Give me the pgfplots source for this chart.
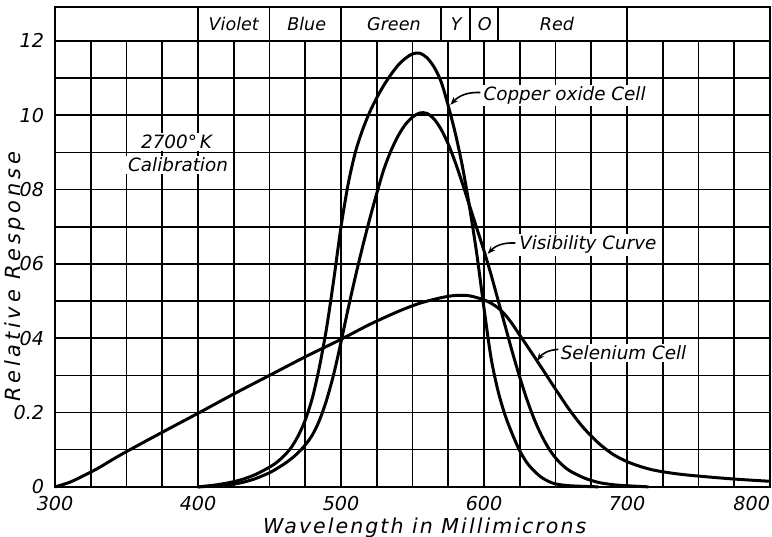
\documentclass[border=0pt]{standalone}
\usepackage{fontspec}
\setmainfont{DejaVu Sans}
\newfontfamily\ylabfont[LetterSpace=18]{DejaVu Sans}
\newfontfamily\xlabfont[LetterSpace=10]{DejaVu Sans}
\usepackage{pgfplots}
\pgfplotsset{compat=1.18}
\usetikzlibrary{arrows.meta}

\begin{document}
\begin{tikzpicture}
\begin{axis}[
  scale only axis,
  width=357.5bp, height=223bp,
  xmin=300, xmax=800, ymin=0, ymax=1.2,
  xtick={300,400,...,800}, minor x tick num=3,
  ytick={0,0.2,...,1.2}, minor y tick num=1,
  xticklabels={300,400,500,600,700,\makebox[0pt][r]{800}},
  yticklabels={0,0.2,04,06,08,10,12},
  grid=both,
  grid style={black, line width=0.8pt},
  minor grid style={black, line width=0.8pt},
  major tick length=0pt, minor tick length=0pt,
  axis line style={line width=1.3pt},
  tick label style={font=\fontsize{9.6}{10}\selectfont\itshape},
  xticklabel style={yshift=-1bp},
  yticklabel style={xshift=-2bp},
  clip=false,
]
% copper oxide cell
\addplot[black, line width=1.5pt, smooth] coordinates {
  (400,0) (410,0.004) (420,0.010) (430,0.019) (440,0.033) (450,0.053)
  (455,0.066) (460,0.083) (465,0.105) (470,0.137) (475,0.18) (480,0.24)
  (485,0.325) (490,0.43) (495,0.56) (500,0.70) (505,0.815) (510,0.90)
  (515,0.96) (520,1.008) (525,1.047) (530,1.081) (535,1.11) (540,1.135)
  (545,1.153) (550,1.165) (555,1.167) (560,1.155) (565,1.13) (570,1.09)
  (575,1.025) (580,0.95) (585,0.86) (590,0.75) (595,0.625) (600,0.48)
  (605,0.345) (610,0.255) (615,0.19) (620,0.14) (625,0.097) (630,0.065)
  (635,0.043) (640,0.026) (645,0.015) (650,0.008) (660,0.003) (680,0)
};
% visibility curve
\addplot[black, line width=1.5pt, smooth] coordinates {
  (400,0) (410,0.002) (420,0.005) (430,0.011) (440,0.022) (450,0.038)
  (455,0.049) (460,0.061) (465,0.075) (470,0.092) (475,0.113) (480,0.14)
  (485,0.18) (490,0.235) (495,0.305) (500,0.39) (505,0.48) (510,0.565)
  (515,0.645) (520,0.72) (525,0.79) (530,0.855) (535,0.905) (540,0.945)
  (545,0.975) (550,0.995) (555,1.006) (560,1.005) (565,0.99) (570,0.962)
  (575,0.922) (580,0.872) (585,0.815) (590,0.755) (595,0.695) (600,0.635)
  (605,0.57) (610,0.50) (615,0.43) (620,0.36) (625,0.295) (630,0.235)
  (635,0.183) (640,0.14) (645,0.105) (650,0.078) (655,0.058) (660,0.043)
  (670,0.024) (680,0.012) (690,0.006) (700,0.003) (715,0)
};
% selenium cell
\addplot[black, line width=1.5pt, smooth] coordinates {
  (300,0) (310,0.012) (320,0.03) (330,0.05) (340,0.073) (350,0.095)
  (375,0.147) (400,0.198) (425,0.25) (450,0.30) (475,0.35) (500,0.397)
  (520,0.437) (540,0.472) (555,0.494) (570,0.509) (580,0.515) (590,0.514)
  (600,0.503) (605,0.494) (610,0.481) (615,0.462) (620,0.437) (625,0.408)
  (630,0.38) (640,0.322) (650,0.263) (660,0.206) (670,0.157) (680,0.118)
  (690,0.088) (700,0.068) (710,0.054) (720,0.044) (735,0.035) (750,0.029)
  (775,0.021) (800,0.015)
};

% colour band above the plot
\draw[line width=1.3pt] (axis cs:300,1.2) rectangle (axis cs:800,1.2915);
\pgfplotsinvokeforeach{400,450,500,570,590,610,700}{
  \draw[line width=0.9pt] (axis cs:#1,1.2) -- (axis cs:#1,1.2915);
}
\begin{scope}[every node/.style={font=\fontsize{8.8}{9}\selectfont\itshape}]
  \node at (axis cs:425,1.246) {Violet};
  \node at (axis cs:476,1.246) {Blue};
  \node at (axis cs:537,1.246) {Green};
  \node at (axis cs:580.5,1.246) {Y};
  \node at (axis cs:600.5,1.246) {O};
  \node at (axis cs:651,1.246) {Red};
\end{scope}

% annotations
\begin{scope}[every node/.style={font=\fontsize{9.2}{10}\selectfont\itshape, fill=white, inner sep=1pt}]
  \node at (axis cs:385,0.928) {2700°\,K};
  \node at (axis cs:386,0.866) {Calibration};
  \node[anchor=west] at (axis cs:598,1.053) {Copper oxide Cell};
  \node[anchor=west] at (axis cs:623,0.651) {Visibility Curve};
  \node[anchor=west] at (axis cs:652,0.360) {Selenium Cell};
\end{scope}
\draw[line width=0.8pt, -{Stealth[length=4pt]}] (axis cs:597.5,1.061) to[bend right=25] (axis cs:576.5,1.028);
\draw[line width=0.8pt, -{Stealth[length=4pt]}] (axis cs:622,0.656) to[bend right=25] (axis cs:602.5,0.627);
\draw[line width=0.8pt, -{Stealth[length=4pt]}] (axis cs:652,0.370) to[bend right=25] (axis cs:637,0.339);

% axis labels
\node[rotate=90, font=\fontsize{10.5}{11}\ylabfont\itshape] at (rel axis cs:-0.057,0.471) {Relative Response};
\node[font=\fontsize{10.3}{11}\xlabfont\itshape] at (rel axis cs:0.517,-0.092) {Wavelength in Millimicrons};

\coordinate (bl) at (axis cs:261.5,-0.1345);
\coordinate (tr) at (axis cs:801.4,1.310);
\end{axis}
\pgfresetboundingbox
\path[use as bounding box] (bl) rectangle (tr);
\end{tikzpicture}
\end{document}
